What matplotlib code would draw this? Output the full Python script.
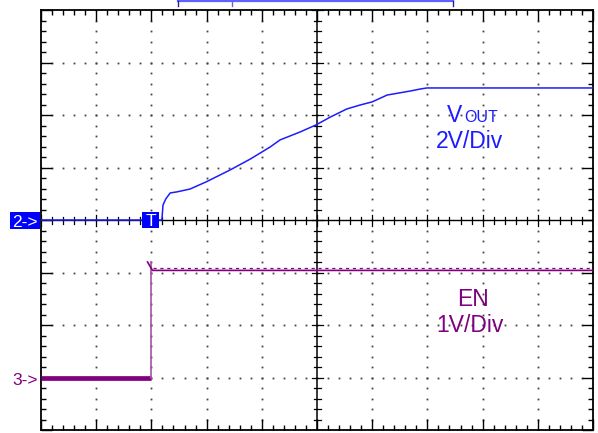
import matplotlib
matplotlib.use("Agg")
import matplotlib.pyplot as plt
from matplotlib.patches import Rectangle
import numpy as np

plt.rcParams['font.family'] = ['Liberation Sans', 'DejaVu Sans']

# ---- data (screen divisions for time, volts for signals) ----
vout_time_div = [0, 2.19, 2.21, 2.26, 2.34, 2.46, 2.70, 2.99, 3.42, 3.79, 4.15, 4.33,
                 4.69, 4.98, 5.24, 5.54, 5.78, 6.00, 6.27, 6.68, 6.87, 6.99, 10]
vout_volts = [0, 0, 0.57, 0.80, 1.03, 1.07, 1.18, 1.45, 1.90, 2.32, 2.78, 3.05,
              3.35, 3.62, 3.92, 4.23, 4.38, 4.50, 4.76, 4.91, 4.99, 5.03, 5.03]
en_low_time = [0, 1.99]
en_low_volts = [0, 0]
en_edge_time = [1.99, 1.99]
en_edge_volts = [0, 2.2]
en_high_time = [1.93, 2.02, 10]
en_high_volts = [2.2, 2.04, 2.04]

ch2_volts_per_div = 2.0
ch3_volts_per_div = 1.0
ch2_offset_div = 0.0
ch3_offset_div = -3.0
trigger_time_div = 1.99

vout_label = "V"
vout_sub = "OUT"
vout_scale = "2V/Div"
en_label = "EN"
en_scale = "1V/Div"

BLUE = '#1c1cff'
BOXBLUE = '#0000ff'
PURPLE = '#800080'

fig = plt.figure(figsize=(5.98, 4.33), dpi=100)
ax = fig.add_axes([41/598, 3/433, 552/598, 420/433])
ax.set_xlim(0, 10)
ax.set_ylim(-4, 4)

# graticule dots
dot_kw = dict(ls='none', marker='s', ms=1.3, mew=0, color='#444444', zorder=1)
ys = np.arange(-4, 4.001, 0.2)
xs = np.arange(0, 10.001, 0.2)
for gx in [1, 2, 3, 4, 6, 7, 8, 9]:
    ax.plot(np.full_like(ys, gx), ys, **dot_kw)
for gy in [-3, -2, -1, 1, 2, 3]:
    ax.plot(xs, np.full_like(xs, gy), **dot_kw)

# center axes with ticks
ax.axhline(0, color='black', lw=1.0, zorder=2)
ax.axvline(5, color='black', lw=1.1, zorder=2)
px_x = 10/552
px_y = 8/420
for x in xs:
    major = abs(x - round(x)) < 1e-6
    h = (5.5 if major else 3.5) * px_y
    ax.plot([x, x], [-h, h], color='black', lw=0.9, zorder=2)
for y in ys:
    major = abs(y - round(y)) < 1e-6
    w = (5.5 if major else 3.5) * px_x
    ax.plot([5 - w, 5 + w], [y, y], color='black', lw=0.9, zorder=2)

# border ticks
ax.set_xticks(np.arange(0, 11, 1))
ax.set_yticks(np.arange(-4, 5, 1))
ax.set_xticks(xs, minor=True)
ax.set_yticks(ys, minor=True)
ax.tick_params(which='both', direction='in', top=True, right=True,
               labelbottom=False, labelleft=False, color='black', width=1.0)
ax.tick_params(which='major', length=8)
ax.tick_params(which='minor', length=3.6)
for s in ax.spines.values():
    s.set_linewidth(1.3)

def ch3(v):
    return np.asarray(v) / ch3_volts_per_div + ch3_offset_div

def ch2(v):
    return np.asarray(v) / ch2_volts_per_div + ch2_offset_div

# channel 3: EN
ax.plot(en_low_time, ch3(en_low_volts), color=PURPLE, lw=3.4, solid_capstyle='butt', zorder=3)
ax.plot(en_edge_time, ch3(en_edge_volts), color='#a850a8', lw=1.2, zorder=3)
ax.plot(en_high_time, ch3(en_high_volts), color=PURPLE, lw=1.2, zorder=3)
ax.plot([2.02, 10], ch3([2.09, 2.09]), color=PURPLE, lw=0.9, dashes=(2.5, 3), zorder=3)

# channel 2: VOUT
ax.plot(vout_time_div, ch2(vout_volts), color=BLUE, lw=1.1, zorder=4)

# ground markers and trigger marker
ax.add_patch(Rectangle((-0.565, -0.17), 0.545, 0.33, facecolor=BOXBLUE, edgecolor='none',
                       clip_on=False, zorder=5))
ax.text(-0.52, -0.125, "2->", color='white', fontsize=12.5, clip_on=False, zorder=6)
ax.add_patch(Rectangle((1.83, -0.16), 0.31, 0.32, facecolor=BOXBLUE, edgecolor='none',
                       clip_on=False, zorder=5))
ax.text(trigger_time_div, -0.12, "T", color='white', fontsize=12.5, ha='center', zorder=6)
ax.text(-0.52, -3.15, "3->", color=PURPLE, fontsize=12.5, clip_on=False, zorder=6)

# record length bracket at top
ax.plot([2.48, 7.46], [4.171, 4.171], color='#6060ff', lw=1.6, clip_on=False)
ax.plot([2.48, 2.48], [4.171, 4.07], color='#2020aa', lw=1.0, clip_on=False)
ax.plot([7.46, 7.46], [4.171, 4.07], color='#2020aa', lw=1.0, clip_on=False)
ax.plot([3.46, 3.46], [4.171, 4.07], color='#6060ff', lw=1.0, clip_on=False)

# labels
ax.text(7.35, 1.87, vout_label, color=BLUE, fontsize=16.5, zorder=6)
ax.text(7.67, 1.87, vout_sub, color=BLUE, fontsize=11.5, zorder=6)
ax.text(7.77, 1.37, vout_scale, color=BLUE, fontsize=16.5, ha='center', zorder=6)
ax.text(7.83, -1.64, en_label, color=PURPLE, fontsize=16.5, ha='center', zorder=6)
ax.text(7.77, -2.13, en_scale, color=PURPLE, fontsize=16.5, ha='center', zorder=6)

fig.savefig("out.png", dpi=100)
